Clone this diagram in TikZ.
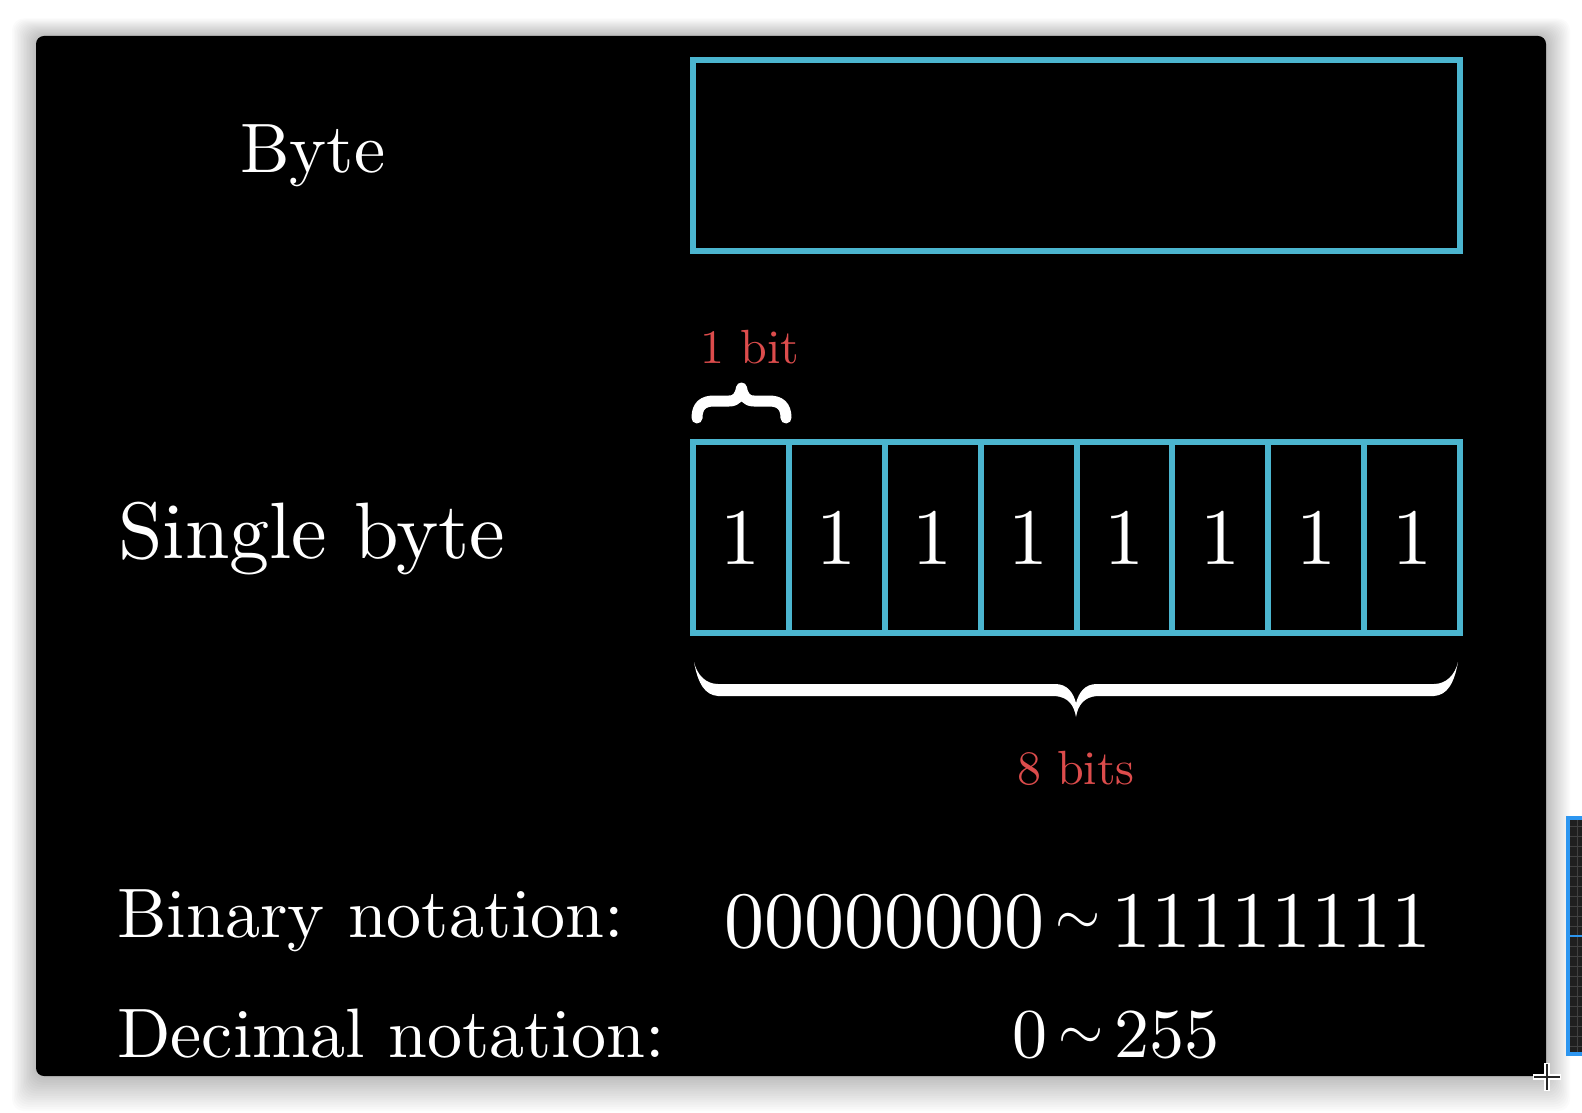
\documentclass[tikz,border=0pt]{standalone}
\usepackage{fontspec}
\usepackage{graphicx}
\setmainfont{lmroman10-regular}[Extension=.otf]
\definecolor{tealbox}{RGB}{75,181,207}
\definecolor{redlbl}{RGB}{220,76,76}
\definecolor{selblue}{RGB}{45,150,240}
\newcommand{\bigsim}{\scalebox{2.9}{\fontsize{10}{12}\selectfont$\sim$}}
\begin{document}
\begin{tikzpicture}[x=0.5pt,y=-0.5pt,
  boxline/.style={draw=tealbox, line width=3pt, inner sep=0pt},
  cellbox/.style={boxline, minimum width=47.94pt, minimum height=95.5pt, text=white, font=\fontsize{40}{48}\selectfont},
  lbl/.style={text=white, inner sep=0pt, anchor=base west},
  redtext/.style={text=redlbl, inner sep=0pt, font=\fontsize{24}{29}\selectfont},
]
\clip (0,0) rectangle (1582,1112);
\fill[white] (0,0) rectangle (1582,1112);
% window shadow
\foreach \i in {1,...,16} {
  \fill[black, opacity=0.014, rounded corners=6pt] (36-1.5*\i,36-1.1*\i) rectangle (1546+1.5*\i,1076+2.2*\i);
}
% black panel
\fill[black, rounded corners=4pt] (36,36) rectangle (1546,1076);

% screenshot artifacts on the right
\fill[black!88] (1567,816) rectangle (1600,1056);
\foreach \yy in {826,836,...,1050} { \draw[black!75, line width=0.4pt] (1567,\yy) -- (1600,\yy); }
\draw[black!75, line width=0.4pt] (1577,816) -- (1577,1056);
\draw[selblue, line width=2pt] (1568,818) rectangle (1600,1054);
\draw[selblue, line width=0.8pt] (1568,936) -- (1600,936);
\coordinate (cx) at (1547,1077);
\draw[white, line width=3pt] (1533,1077) -- (1561,1077) (1547,1063) -- (1547,1091);
\draw[black!85, line width=1.2pt] (1534,1077) -- (1560,1077) (1547,1064) -- (1547,1090);

% Byte row
\node[lbl, font=\fontsize{35}{42}\selectfont] (byte) at (240,173) {Byte};
\node[boxline, minimum width=383.5pt, minimum height=95.5pt] (bytebox) at (1076.5,155.5) {};

% Single byte row
\node[lbl, font=\fontsize{40}{48}\selectfont] (single) at (118,558) {Single byte};
\foreach \i in {1,...,8} {
  \node[cellbox] (c\i) at ({693+95.875*(\i-0.5)},537.5) {1};
}

% small brace over first cell
\draw[white, line width=5.5pt, line cap=round, line join=round]
  (697,418) .. controls (697,406) and (703,401) .. (714,401) -- (729,401)
  .. controls (737,401) and (740,396) .. (741.5,388)
  .. controls (743,396) and (746,401) .. (754,401) -- (769,401)
  .. controls (780,401) and (786,406) .. (786,418);
\coordinate (smallbrace) at (741.5,388);
\node[redtext, anchor=base west] (onebit) at (700,363) {1 bit};

% big brace under cells
\fill[white]
  (694,662) .. controls (698,684) and (705,695) .. (718,696) -- (1055,696)
  .. controls (1068,697) and (1074,705) .. (1076,717)
  .. controls (1078,705) and (1084,697) .. (1097,696) -- (1434,696)
  .. controls (1447,695) and (1454,684) .. (1458,662)
  .. controls (1455,675) and (1446,684) .. (1434,684) -- (1097,684)
  .. controls (1085,684) and (1079,692) .. (1076,703)
  .. controls (1073,692) and (1067,684) .. (1055,684) -- (718,684)
  .. controls (706,684) and (697,675) .. (694,662) -- cycle;
\coordinate (bigbrace) at (1076,717);
\node[redtext, anchor=base] (eightbits) at (1076,784) {8 bits};

% notation rows
\node[lbl, font=\fontsize{35}{42}\selectfont] (binlbl) at (117,937) {Binary notation:};
\node[lbl, font=\fontsize{35}{42}\selectfont] (declbl) at (117,1057) {Decimal notation:};
\node[lbl] (binval) at (724,947) {\fontsize{40}{48}\selectfont 00000000\kern5.5pt\raisebox{6.25pt}{\bigsim}\kern5.5pt 11111111};
\node[lbl] (decval) at (1012,1057) {\fontsize{35}{42}\selectfont 0\kern5.5pt\raisebox{3.75pt}{\bigsim}\kern5.5pt 255};
\end{tikzpicture}
\end{document}
